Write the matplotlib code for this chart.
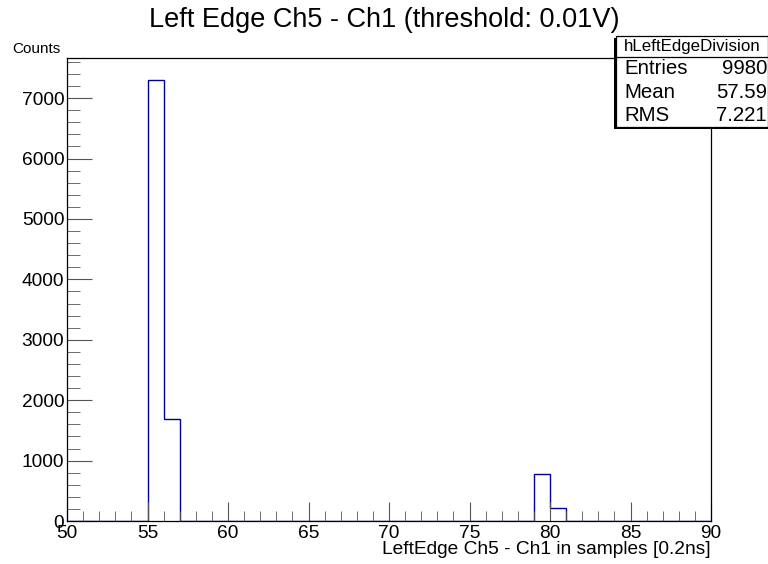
import numpy as np
import matplotlib
matplotlib.use("Agg")
import matplotlib.pyplot as plt
from matplotlib.ticker import MultipleLocator
from matplotlib.patches import Rectangle

plt.rcParams['font.family'] = ['Liberation Sans', 'DejaVu Sans']

# histogram content (bin width 1 sample)
x_min, x_max = 50, 90
filled_bins = [55, 56, 79, 80]
counts = [7300, 1690, 785, 215]
stats_names = ["Entries", "Mean", "RMS"]
stats_values = ["9980", "57.59", "7.221"]

edges = np.arange(x_min, x_max + 1)
values = np.zeros(len(edges) - 1)
for b, c in zip(filled_bins, counts):
    values[b - x_min] = c

fig = plt.figure(figsize=(7.68, 5.64), dpi=100)
ax = fig.add_axes([67/768, 1 - 521/564, (711-67)/768, (521-58)/564])

ax.stairs(values, edges, color="#000099", lw=1.0)

ax.set_xlim(x_min, x_max)
ax.set_ylim(0, max(counts) * 1.05)

# ROOT-like ticks: inside, left/bottom only
ax.xaxis.set_major_locator(MultipleLocator(5))
ax.xaxis.set_minor_locator(MultipleLocator(1))
ax.yaxis.set_major_locator(MultipleLocator(1000))
ax.yaxis.set_minor_locator(MultipleLocator(200))
ax.tick_params(which="both", direction="in", color="#555555", labelsize=13.8)
ax.tick_params(axis="x", which="major", length=14, pad=3)
ax.tick_params(axis="x", which="minor", length=7)
ax.tick_params(axis="y", which="major", length=18, pad=2)
ax.tick_params(axis="y", which="minor", length=9)
for s in ax.spines.values():
    s.set_linewidth(0.9)

ax.set_xlabel("LeftEdge Ch5 - Ch1 in samples [0.2ns]", fontsize=13.8, loc="right", labelpad=-1)
fig.text(12/768, 1 - 49/564, "Counts", fontsize=11, ha="left", va="center")

fig.text(0.5, 1 - 20/564, "Left Edge Ch5 - Ch1 (threshold: 0.01V)", fontsize=19.5,
         ha="center", va="center")

# stats box
bx0, bx1 = 616/768, 1.0
by_top, by_sep, by_bot = 1 - 36/564, 1 - 57/564, 1 - 127/564
fig.patches.append(Rectangle((bx0 - 2/768, by_bot - 2/564), bx1 - bx0 + 2/768, by_top - by_bot,
                             transform=fig.transFigure, facecolor="black", edgecolor="none", zorder=5))
fig.patches.append(Rectangle((bx0, by_bot), bx1 - bx0, by_top - by_bot, transform=fig.transFigure,
                             facecolor="white", edgecolor="black", lw=0.9, zorder=6))
fig.add_artist(plt.Line2D([bx0, bx1], [by_sep, by_sep], transform=fig.transFigure,
                          color="black", lw=0.9, zorder=7))
fig.text((bx0 + bx1) / 2, (by_top + by_sep) / 2, "hLeftEdgeDivision", fontsize=12.2,
         ha="center", va="center", zorder=8)
row_h = (by_sep - by_bot) / 3
for i, (n, v) in enumerate(zip(stats_names, stats_values)):
    yy = by_sep - row_h * (i + 0.5)
    fig.text(bx0 + 8/768, yy, n, fontsize=14.7, ha="left", va="center", zorder=8)
    fig.text(bx1 - 1/768, yy, v, fontsize=14.7, ha="right", va="center", zorder=8)

fig.savefig("out.png", dpi=100)
